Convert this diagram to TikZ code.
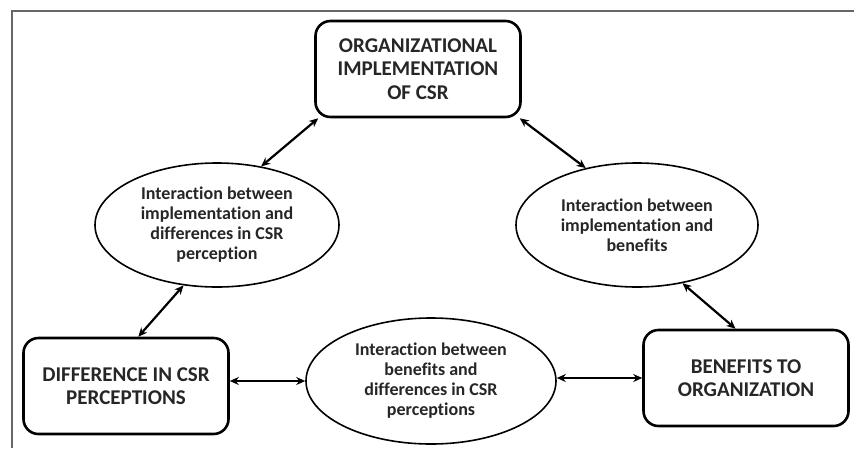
\documentclass[tikz,border=0pt]{standalone}
\usepackage{fontspec}
\setmainfont{Carlito}[Ligatures=NoCommon]
\usetikzlibrary{shapes.geometric,arrows.meta,calc}
\begin{document}
\begin{tikzpicture}[x=1pt,y=-1pt,
  mainbox/.style={draw,line width=2.6pt,rounded corners=15pt,minimum width=205pt,minimum height=96pt,align=center,font=\fontsize{21}{23.5}\selectfont\bfseries,text=black!85},
  inter/.style={draw,ellipse,line width=1.6pt,inner sep=0pt,align=center,font=\fontsize{18}{20}\selectfont\bfseries,text=black!85},
  link/.style={line width=2.2pt,{Stealth[length=9pt,width=8pt]}-{Stealth[length=9pt,width=8pt]}}]
\useasboundingbox (0,0) rectangle (854,448);
\fill[white] (0,0) rectangle (854,448);
\draw[black!60,line width=1.5pt] (854,11) -- (12,11) -- (12,448);
\node[mainbox] (T) at (418,69) {ORGANIZATIONAL\\IMPLEMENTATION\\OF CSR};
\node[mainbox] (BL) at (126,386) {DIFFERENCE IN CSR\\PERCEPTIONS};
\node[mainbox] (BR) at (746,378) {BENEFITS TO\\ORGANIZATION};
\node[inter,minimum width=244pt,minimum height=124pt] (L) at (217,225) {Interaction between\\implementation and\\differences in CSR\\perception};
\node[inter,minimum width=242pt,minimum height=124pt] (R) at (637,225) {Interaction between\\implementation and\\benefits};
\node[inter,minimum width=250pt,minimum height=126pt] (B) at (431,381) {Interaction between\\benefits and\\differences in CSR\\perceptions};
\draw[link] ($(T.south west)+(4,0)$) -- (L.53);
\draw[link] ($(T.south east)+(-2,0)$) -- (R.132);
\draw[link] (L.241) -- (BL.76);
\draw[link] (R.308) -- (BR.102);
\draw[link] (BL.east|-B.west) -- (B.west);
\draw[link] (B.east|-BR.west) -- (BR.west);
\end{tikzpicture}
\end{document}
